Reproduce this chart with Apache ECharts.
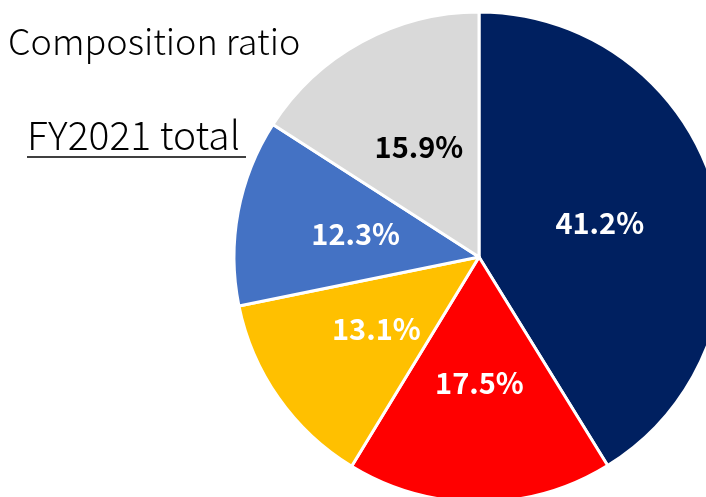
<!DOCTYPE html>
<html>
<head>
<meta charset="utf-8">
<script src="https://cdn.jsdelivr.net/npm/echarts@6/dist/echarts.min.js"></script>
<style>
  html, body { margin: 0; padding: 0; background: #fff; }
  #main { width: 706px; height: 497px; }
</style>
</head>
<body>
<div id="main"></div>
<script>
var myChart = echarts.init(document.getElementById('main'));

// segments, clockwise from 12 o'clock
var names = ['A', 'B', 'C', 'D', 'E'];
var shares = [41.2, 17.5, 13.1, 12.3, 15.9];
var colors = ['#002060', '#FF0000', '#FFC000', '#4472C4', '#D9D9D9'];
var labelColors = ['#fff', '#fff', '#fff', '#fff', '#000'];

var font = '"Noto Sans CJK JP", "Noto Sans", sans-serif';

var data = names.map(function (n, i) {
    return {
        name: n,
        value: shares[i],
        itemStyle: { color: colors[i] },
        label: { color: labelColors[i] }
    };
});

option = {
    animation: false,
    graphic: [
        {
            type: 'text',
            left: 8,
            top: 23,
            style: {
                text: 'Composition ratio',
                fontSize: 36,
                fontFamily: font,
                fontWeight: 300,
                fill: '#000'
            }
        },
        {
            type: 'text',
            left: 27,
            top: 116,
            style: {
                text: 'FY2021 total',
                fontSize: 39,
                fontFamily: font,
                fontWeight: 300,
                fill: '#000'
            }
        },
        {
            type: 'line',
            shape: { x1: 27, y1: 157, x2: 246, y2: 157 },
            style: { stroke: '#000', lineWidth: 1.5 }
        }
    ],
    series: [{
        type: 'pie',
        center: [479, 257],
        radius: [0, 245],
        startAngle: 90,
        clockwise: true,
        itemStyle: {
            borderColor: '#fff',
            borderWidth: 3
        },
        label: {
            show: true,
            position: 'inside',
            formatter: function (p) { return p.value.toFixed(1) + '%'; },
            fontSize: 29,
            fontWeight: 'bold',
            fontFamily: font
        },
        labelLine: { show: false },
        data: data
    }]
};

myChart.setOption(option);
</script>
</body>
</html>
